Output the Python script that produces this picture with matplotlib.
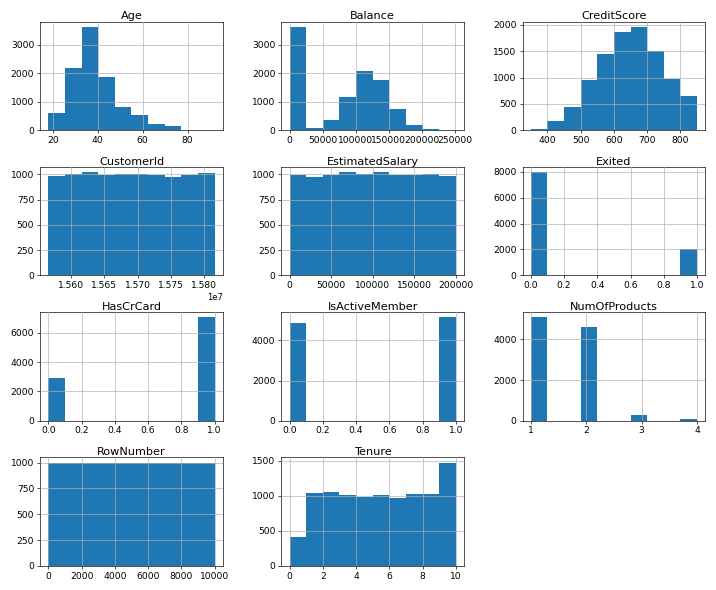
import numpy as np
import matplotlib.pyplot as plt

# column name -> (min, max, counts for 10 equal bins)
age_range = (18, 92)
age_counts = [611, 2180, 3630, 1870, 800, 540, 220, 130, 12, 7]
balance_range = (0, 250898)
balance_counts = [3620, 70, 360, 1170, 2080, 1750, 730, 180, 30, 5]
credit_range = (350, 850)
credit_counts = [19, 166, 445, 958, 1442, 1867, 1960, 1513, 964, 655]
custid_range = (15565701, 15815690)
custid_counts = [985, 1000, 1022, 998, 1001, 1000, 993, 978, 990, 1010]
salary_range = (11.58, 199992.48)
salary_counts = [988, 968, 988, 1020, 1000, 1020, 990, 990, 1000, 980]
exited_range = (0, 1)
exited_counts = [7963, 0, 0, 0, 0, 0, 0, 0, 0, 2037]
card_range = (0, 1)
card_counts = [2945, 0, 0, 0, 0, 0, 0, 0, 0, 7055]
active_range = (0, 1)
active_counts = [4849, 0, 0, 0, 0, 0, 0, 0, 0, 5151]
products_range = (1, 4)
products_counts = [5084, 0, 0, 4590, 0, 0, 266, 0, 0, 60]
products_ticks = [1, 2, 3, 4]
row_range = (1, 10000)
row_counts = [1000] * 10
tenure_range = (0, 10)
tenure_counts = [413, 1035, 1048, 1009, 989, 1012, 967, 1028, 1025, 1474]

columns = [
    ('Age', age_range, age_counts),
    ('Balance', balance_range, balance_counts),
    ('CreditScore', credit_range, credit_counts),
    ('CustomerId', custid_range, custid_counts),
    ('EstimatedSalary', salary_range, salary_counts),
    ('Exited', exited_range, exited_counts),
    ('HasCrCard', card_range, card_counts),
    ('IsActiveMember', active_range, active_counts),
    ('NumOfProducts', products_range, products_counts),
    ('RowNumber', row_range, row_counts),
    ('Tenure', tenure_range, tenure_counts),
]

fig, axes = plt.subplots(4, 3, figsize=(716 / 60, 590 / 60), dpi=60)
for ax, (name, (lo, hi), counts) in zip(axes.flat, columns):
    edges = np.linspace(lo, hi, 11)
    centers = (edges[:-1] + edges[1:]) / 2
    ax.hist(centers, bins=edges, weights=counts, color='#1f77b4')
    ax.set_title(name, fontsize=13.5, pad=3)
    ax.tick_params(labelsize=11)
    ax.grid(True)
    ax.set_axisbelow(False)
    if name == 'NumOfProducts':
        ax.set_xticks(products_ticks)
    if name in ('IsActiveMember', 'NumOfProducts'):
        ax.set_yticks([0, 2000, 4000])
    if name == 'RowNumber':
        ax.set_yticks([0, 250, 500, 750, 1000])
axes.flat[-1].set_visible(False)

plt.subplots_adjust(left=0.056, right=0.985, top=0.963, bottom=0.041, hspace=0.34, wspace=0.32)
plt.savefig('out.png', dpi=60, facecolor='white')
